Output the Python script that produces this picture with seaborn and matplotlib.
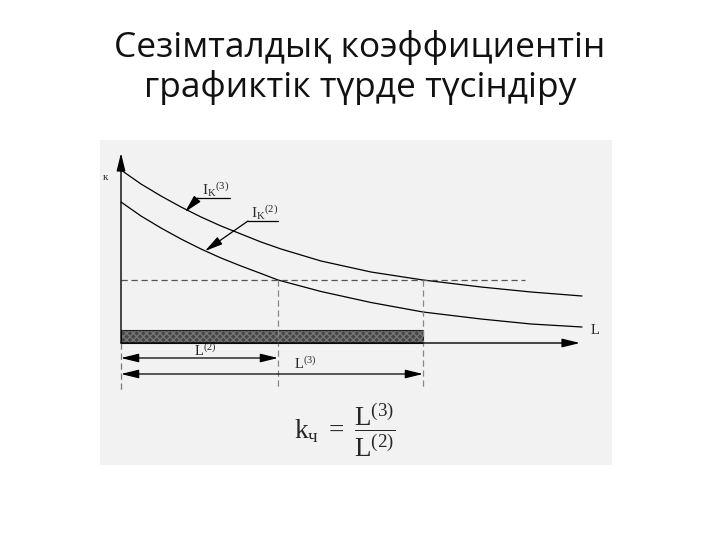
import numpy as np
import pandas as pd
import seaborn as sns
import matplotlib.pyplot as plt

# values (L along the line, Ik short-circuit current)
L_upper = [0, 2, 4, 6, 8, 10, 12, 14, 16, 20, 25, 30.2, 36, 41, 46.1]
ik3 = [17.3, 15.9, 14.7, 13.6, 12.6, 11.7, 10.9, 10.1, 9.4, 8.2, 7.1, 6.3,
       5.6, 5.1, 4.7]
L_lower = [0, 2, 4, 6, 8, 10, 12, 14, 15.7, 20, 25, 30.2, 36, 41, 46.1]
ik2 = [14.1, 12.7, 11.5, 10.4, 9.4, 8.5, 7.7, 6.95, 6.3, 5.15, 4.05, 3.1,
       2.4, 1.9, 1.6]

i_set = 6.3      # dashed setting level
L2 = 15.7        # protected length for 2-phase fault
L3 = 30.2        # protected length for 3-phase fault
L_dash_end = 40.4

title_lines = ['Сезімталдық коэффициентін', 'графиктік түрде түсіндіру']


def main():
    sns.set_theme(style='white')
    plt.rcParams['font.family'] = ['Open Sans', 'DejaVu Sans']
    plt.rcParams['mathtext.fontset'] = 'custom'
    plt.rcParams['mathtext.rm'] = 'Liberation Serif'
    plt.rcParams['mathtext.it'] = 'Liberation Serif:italic'
    plt.rcParams['mathtext.bf'] = 'Liberation Serif:bold'

    fig = plt.figure(figsize=(7.2, 5.4), dpi=100)
    fig.patch.set_facecolor('white')

    fig.text(0.5, 1 - 57 / 540, title_lines[0], ha='center', va='baseline',
             fontsize=25.5, color='#111111')
    fig.text(0.5, 1 - 97 / 540, title_lines[1], ha='center', va='baseline',
             fontsize=25.5, color='#111111')

    ax = fig.add_axes([100 / 720, 75 / 540, 512 / 720, 325 / 540])
    ax.set_facecolor('#f2f2f2')
    for s in ax.spines.values():
        s.set_visible(False)

    df3 = pd.DataFrame({'L': L_upper, 'I': ik3})
    df2 = pd.DataFrame({'L': L_lower, 'I': ik2})
    sns.lineplot(data=df3, x='L', y='I', color='black', lw=0.9, ax=ax)
    sns.lineplot(data=df2, x='L', y='I', color='black', lw=0.9, ax=ax)

    ax.set_xlim(-2.1, 49.1)
    ax.set_ylim(-12.2, 20.3)
    ax.set_xticks([])
    ax.set_yticks([])
    ax.set_xlabel('')
    ax.set_ylabel('')

    # setting level and projections
    ax.plot([0, L_dash_end], [i_set, i_set], color='#555555', lw=0.9,
            ls=(0, (5, 3)))
    ax.plot([0, 0], [0, -4.7], color='#777777', lw=0.9, ls=(0, (5, 3)))
    ax.plot([L2, L2], [i_set, -4.7], color='#888888', lw=0.9, ls=(0, (5, 3)))
    ax.plot([L3, L3], [i_set, -4.7], color='#888888', lw=0.9, ls=(0, (5, 3)))

    # protected zone bar
    ax.barh([0.65], [L3], height=1.3, left=0, color='#474747',
            edgecolor='#757575', hatch='xxxxx', lw=0)
    ax.barh([0.65], [L3], height=1.3, left=0, fill=False,
            edgecolor='#222222', lw=0.8)

    # axes with arrows
    ax_arrow = dict(arrowstyle='-|>,head_length=0.9,head_width=0.22',
                    color='black', lw=1.0, shrinkA=0, shrinkB=0)
    ax.annotate('', xy=(45.9, 0), xytext=(0, 0), arrowprops=ax_arrow)
    ax.annotate('', xy=(0, 19.0), xytext=(0, 0), arrowprops=ax_arrow)

    # dimension arrows
    dim = dict(arrowstyle='<|-|>,head_length=0.9,head_width=0.22',
               color='black', lw=0.9, shrinkA=0, shrinkB=0)
    ax.annotate('', xy=(L2, -1.5), xytext=(0, -1.5), arrowprops=dim)
    ax.annotate('', xy=(L3, -3.1), xytext=(0, -3.1), arrowprops=dim)
    ax.text(8.4, -0.87, r'$\mathrm{L}^{(2)}$', ha='center', va='center',
            fontsize=10.5)
    ax.text(18.4, -2.2, r'$\mathrm{L}^{(3)}$', ha='center', va='center',
            fontsize=10.5)

    # curve labels with leaders
    lead = dict(arrowstyle='-|>,head_length=0.9,head_width=0.22',
                color='black', lw=0.9, shrinkA=0, shrinkB=0)
    ax.plot([7.7, 10.9], [14.5, 14.5], color='black', lw=0.9)
    ax.annotate('', xy=(6.4, 13.1), xytext=(7.7, 14.5), arrowprops=lead)
    ax.text(9.5, 15.3, r'$\mathrm{I}_{\mathrm{K}}{}^{(3)}$', ha='center',
            va='center', fontsize=11)
    ax.plot([12.7, 15.7], [12.2, 12.2], color='black', lw=0.9)
    ax.annotate('', xy=(8.4, 9.2), xytext=(12.7, 12.2), arrowprops=lead)
    ax.text(14.4, 13.0, r'$\mathrm{I}_{\mathrm{K}}{}^{(2)}$', ha='center',
            va='center', fontsize=11)

    ax.text(-1.6, 16.6, 'к', ha='center', va='center', fontsize=8,
            family='Liberation Serif')
    ax.text(47.4, 1.3, 'L', ha='center', va='center', fontsize=10.5,
            family='Liberation Serif')

    ax.text(22.4, -8.7,
            r'$\mathrm{k}_{\mathrm{ч}}\ =\ \dfrac{\mathrm{L}^{(3)}}{\mathrm{L}^{(2)}}$',
            ha='center', va='center', fontsize=19.5)

    plt.savefig('out.png', dpi=100)


if __name__ == '__main__':
    main()
